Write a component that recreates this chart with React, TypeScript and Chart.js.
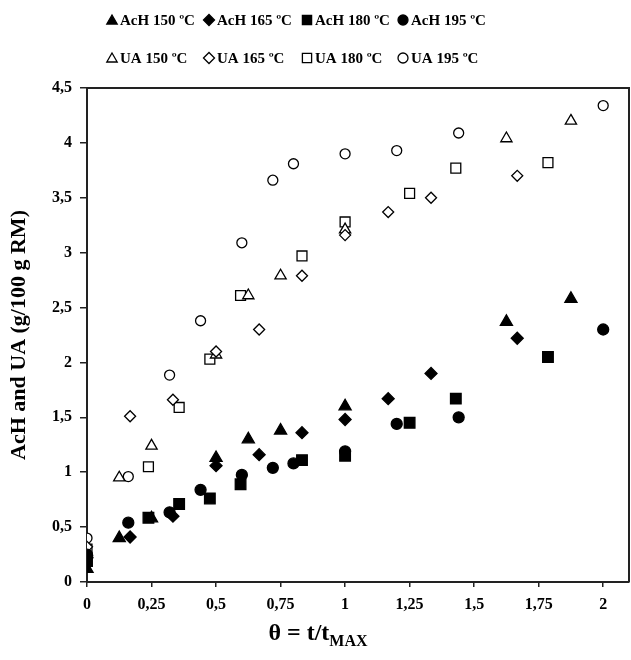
import React, { useEffect, useRef } from "react";
import { Chart, registerables } from "chart.js";
import { drawPoint } from "chart.js/helpers";

Chart.register(...registerables);

const FONT = "'Liberation Serif', 'Times New Roman', Times, serif";

// θ = t/tMAX sampling per temperature
const theta150 = [0, 0.125, 0.25, 0.5, 0.625, 0.75, 1, 1.625, 1.875];
const theta165 = [0, 0.167, 0.333, 0.5, 0.667, 0.833, 1, 1.167, 1.333, 1.667];
const theta180 = [0, 0.238, 0.357, 0.476, 0.595, 0.833, 1, 1.25, 1.429, 1.786];
const theta195 = [0, 0.16, 0.32, 0.44, 0.6, 0.72, 0.8, 1, 1.2, 1.44, 2];

// Acetic acid (AcH), g/100 g RM
const ach150 = [0.12, 0.4, 0.58, 1.13, 1.3, 1.38, 1.6, 2.37, 2.58];
const ach165 = [0.22, 0.41, 0.6, 1.06, 1.16, 1.36, 1.48, 1.67, 1.9, 2.22];
const ach180 = [0.19, 0.585, 0.71, 0.76, 0.89, 1.11, 1.15, 1.45, 1.67, 2.05];
const ach195 = [0.25, 0.54, 0.635, 0.84, 0.975, 1.04, 1.08, 1.19, 1.44, 1.5, 2.3];

// Uronic acids (UA), g/100 g RM
const ua150 = [0.27, 0.95, 1.24, 2.07, 2.61, 2.79, 3.21, 4.04, 4.2];
const ua165 = [0.32, 1.51, 1.66, 2.1, 2.3, 2.79, 3.16, 3.37, 3.5, 3.7];
const ua180 = [0.3, 1.05, 1.59, 2.03, 2.61, 2.97, 3.28, 3.54, 3.77, 3.82];
const ua195 = [0.4, 0.96, 1.885, 2.38, 3.09, 3.66, 3.81, 3.9, 3.93, 4.09, 4.34];

const xTicks = [0, 0.25, 0.5, 0.75, 1, 1.25, 1.5, 1.75, 2];
const yTicks = [0, 0.5, 1, 1.5, 2, 2.5, 3, 3.5, 4, 4.5];

const legendLabels = [
  "AcH 150 ºC", "AcH 165 ºC", "AcH 180 ºC", "AcH 195 ºC",
  "UA 150 ºC", "UA 165 ºC", "UA 180 ºC", "UA 195 ºC",
];

type Series = {
  label: string;
  xs: number[];
  ys: number[];
  style: "triangle" | "rectRot" | "rect" | "circle";
  filled: boolean;
  radius: number;
  legendRadius: number;
  order: number;
};

const series: Series[] = [
  { label: legendLabels[0], xs: theta150, ys: ach150, style: "triangle", filled: true, radius: 7, legendRadius: 6, order: 1 },
  { label: legendLabels[1], xs: theta165, ys: ach165, style: "rectRot", filled: true, radius: 6, legendRadius: 5.5, order: 0 },
  { label: legendLabels[2], xs: theta180, ys: ach180, style: "rect", filled: true, radius: 7.5, legendRadius: 6.5, order: 2 },
  { label: legendLabels[3], xs: theta195, ys: ach195, style: "circle", filled: true, radius: 5.5, legendRadius: 5, order: 3 },
  { label: legendLabels[4], xs: theta150, ys: ua150, style: "triangle", filled: false, radius: 6.5, legendRadius: 6, order: 5 },
  { label: legendLabels[5], xs: theta165, ys: ua165, style: "rectRot", filled: false, radius: 5.5, legendRadius: 5.5, order: 4 },
  { label: legendLabels[6], xs: theta180, ys: ua180, style: "rect", filled: false, radius: 7, legendRadius: 6.5, order: 6 },
  { label: legendLabels[7], xs: theta195, ys: ua195, style: "circle", filled: false, radius: 5, legendRadius: 5, order: 7 },
];

const fmt = (v: number) => String(v).replace(".", ",");

// Frame on the top and right of the plot area
const framePlugin = {
  id: "frame",
  afterDraw(chart: any) {
    const { ctx, chartArea } = chart;
    ctx.save();
    ctx.strokeStyle = "#222";
    ctx.lineWidth = 2;
    ctx.beginPath();
    ctx.moveTo(chartArea.left, chartArea.top);
    ctx.lineTo(chartArea.right, chartArea.top);
    ctx.lineTo(chartArea.right, chartArea.bottom);
    ctx.stroke();
    ctx.restore();
  },
};

// Two-row legend with fixed columns
const legendPlugin = {
  id: "gridLegend",
  afterDraw(chart: any) {
    const { ctx } = chart;
    const cols = [112, 209, 307, 403];
    const rows = [20, 58];
    ctx.save();
    ctx.font = `bold 15px ${FONT}`;
    ctx.textBaseline = "middle";
    ctx.textAlign = "left";
    series.forEach((s, i) => {
      const cx = cols[i % 4];
      const cy = rows[Math.floor(i / 4)];
      ctx.fillStyle = s.filled ? "#000" : "#fff";
      ctx.strokeStyle = "#000";
      ctx.lineWidth = 1.3;
      drawPoint(ctx, { pointStyle: s.style, radius: s.legendRadius, borderWidth: 1.3, rotation: 0 } as any, cx, cy + (s.style === "triangle" ? 1 : 0));
      ctx.fillStyle = "#000";
      ctx.fillText(s.label, cx + 8, cy + 1);
    });
    ctx.restore();
  },
};

// Axis titles (x title carries a subscript)
const titlesPlugin = {
  id: "axisTitles",
  afterDraw(chart: any) {
    const { ctx, chartArea } = chart;
    ctx.save();
    ctx.fillStyle = "#000";
    ctx.textBaseline = "alphabetic";
    ctx.textAlign = "left";
    const main = "θ = t/t";
    const sub = "MAX";
    ctx.font = `bold 24px ${FONT}`;
    const wMain = ctx.measureText(main).width;
    ctx.font = `bold 16px ${FONT}`;
    const wSub = ctx.measureText(sub).width;
    const x0 = 318 - (wMain + wSub) / 2;
    ctx.font = `bold 24px ${FONT}`;
    ctx.fillText(main, x0, 640);
    ctx.font = `bold 16px ${FONT}`;
    ctx.fillText(sub, x0 + wMain, 646);

    ctx.translate(19, (chartArea.top + chartArea.bottom) / 2);
    ctx.rotate(-Math.PI / 2);
    ctx.font = `bold 22px ${FONT}`;
    ctx.textAlign = "center";
    ctx.textBaseline = "middle";
    ctx.fillText("AcH and UA (g/100 g RM)", 0, 0);
    ctx.restore();
  },
};

export default function App() {
  const ref = useRef<HTMLCanvasElement>(null);

  useEffect(() => {
    const canvas = ref.current;
    if (!canvas) return;
    const chart = new Chart(canvas, {
      type: "scatter",
      data: {
        datasets: series.map((s) => ({
          label: s.label,
          data: s.xs.map((x, i) => ({ x, y: s.ys[i] })),
          pointStyle: s.style,
          pointRadius: s.radius,
          pointHoverRadius: s.radius,
          backgroundColor: s.filled ? "#000" : "#fff",
          borderColor: "#000",
          pointBorderWidth: 1.3,
          showLine: false,
          order: s.order,
        })),
      },
      options: {
        responsive: false,
        animation: false,
        devicePixelRatio: 1,
        events: [],
        layout: { autoPadding: false, padding: { top: 88, right: 2, left: 0, bottom: 0 } },
        plugins: {
          legend: { display: false },
          tooltip: { enabled: false },
          title: { display: false },
        },
        scales: {
          x: {
            type: "linear",
            min: 0,
            max: 2.1,
            afterBuildTicks: (scale: any) => {
              scale.ticks = xTicks.map((value) => ({ value }));
            },
            afterFit: (scale: any) => {
              scale.height = 78;
              scale.paddingLeft = 0;
              scale.paddingRight = 0;
            },
            grid: {
              display: true,
              drawOnChartArea: false,
              drawTicks: true,
              tickLength: 5,
              color: "#222",
              lineWidth: 1.5,
            },
            border: { display: true, color: "#222", width: 2 },
            ticks: {
              color: "#000",
              autoSkip: false,
              maxRotation: 0,
              padding: 8,
              font: { family: FONT, size: 16, weight: "bold" },
              callback: (v: any) => fmt(Number(v)),
            },
          },
          y: {
            type: "linear",
            min: 0,
            max: 4.5,
            afterBuildTicks: (scale: any) => {
              scale.ticks = yTicks.map((value) => ({ value }));
            },
            afterFit: (scale: any) => {
              scale.width = 87;
              scale.paddingTop = 0;
              scale.paddingBottom = 0;
            },
            grid: {
              display: true,
              drawOnChartArea: false,
              drawTicks: true,
              tickLength: 7,
              color: "#222",
              lineWidth: 1.5,
            },
            border: { display: true, color: "#222", width: 2 },
            ticks: {
              color: "#000",
              padding: 8,
              font: { family: FONT, size: 16, weight: "bold" },
              callback: (v: any) => fmt(Number(v)),
            },
          },
        },
      },
      plugins: [framePlugin, legendPlugin, titlesPlugin],
    } as any);
    return () => chart.destroy();
  }, []);

  return (
    <div style={{ position: "absolute", left: 0, top: 0, width: 631, height: 660, background: "#fff" }}>
      <canvas ref={ref} width={631} height={660} style={{ display: "block" }} />
    </div>
  );
}
